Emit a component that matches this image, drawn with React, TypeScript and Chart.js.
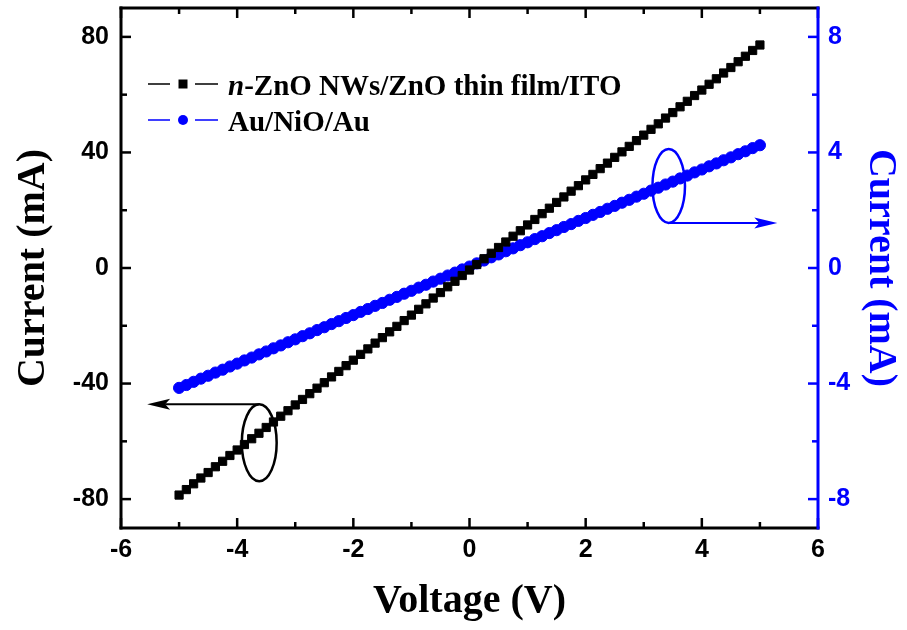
import React, { useEffect, useRef } from "react";
import { Chart, registerables } from "chart.js";

Chart.register(...registerables);

// ---------------- data ----------------
const voltage = [
  -5, -4.875, -4.75, -4.625, -4.5, -4.375, -4.25, -4.125, -4, -3.875,
  -3.75, -3.625, -3.5, -3.375, -3.25, -3.125, -3, -2.875, -2.75, -2.625,
  -2.5, -2.375, -2.25, -2.125, -2, -1.875, -1.75, -1.625, -1.5, -1.375,
  -1.25, -1.125, -1, -0.875, -0.75, -0.625, -0.5, -0.375, -0.25, -0.125,
  0, 0.125, 0.25, 0.375, 0.5, 0.625, 0.75, 0.875, 1, 1.125,
  1.25, 1.375, 1.5, 1.625, 1.75, 1.875, 2, 2.125, 2.25, 2.375,
  2.5, 2.625, 2.75, 2.875, 3, 3.125, 3.25, 3.375, 3.5, 3.625,
  3.75, 3.875, 4, 4.125, 4.25, 4.375, 4.5, 4.625, 4.75, 4.875, 5,
];

// n-ZnO NWs/ZnO thin film/ITO (left axis, mA)
const currentZnO = [
  -78.6, -76.7, -74.7, -72.7, -70.8, -68.8, -66.9, -64.9, -63.0, -61.1,
  -59.1, -57.2, -55.2, -53.3, -51.3, -49.4, -47.4, -45.5, -43.5, -41.6,
  -39.7, -37.7, -35.8, -33.8, -31.9, -29.9, -28.0, -26.0, -24.1, -22.1,
  -20.2, -18.2, -16.3, -14.3, -12.4, -10.4, -8.5, -6.5, -4.6, -2.6,
  -0.7, 1.2, 3.2, 5.1, 7.1, 9.0, 11.0, 12.9, 14.9, 16.8,
  18.8, 20.7, 22.7, 24.6, 26.6, 28.5, 30.5, 32.4, 34.4, 36.3,
  38.3, 40.2, 42.1, 44.1, 46.0, 48.0, 49.9, 51.9, 53.8, 55.8,
  57.7, 59.7, 61.6, 63.6, 65.5, 67.5, 69.4, 71.4, 73.3, 75.3, 77.2,
];

// Au/NiO/Au (right axis, mA)
const currentNiO = [
  -4.15, -4.05, -3.94, -3.83, -3.73, -3.62, -3.52, -3.41, -3.31, -3.20,
  -3.10, -2.99, -2.89, -2.78, -2.68, -2.57, -2.47, -2.36, -2.26, -2.15,
  -2.05, -1.94, -1.84, -1.73, -1.63, -1.52, -1.42, -1.31, -1.21, -1.10,
  -1.00, -0.89, -0.79, -0.68, -0.58, -0.47, -0.37, -0.26, -0.16, -0.05,
  0.05, 0.16, 0.26, 0.37, 0.47, 0.58, 0.68, 0.79, 0.89, 1.00,
  1.10, 1.21, 1.31, 1.42, 1.52, 1.63, 1.73, 1.84, 1.94, 2.05,
  2.15, 2.26, 2.36, 2.47, 2.57, 2.68, 2.78, 2.89, 2.99, 3.10,
  3.20, 3.31, 3.41, 3.52, 3.62, 3.73, 3.83, 3.94, 4.04, 4.15, 4.25,
];

const xTicks = [-6, -4, -2, 0, 2, 4, 6];
const xMinorTicks = [-5, -3, -1, 1, 3, 5];
const leftTicks = [-80, -40, 0, 40, 80];
const leftMinorTicks = [-60, -20, 20, 60];
const rightTicks = [-8, -4, 0, 4, 8];
const rightMinorTicks = [-6, -2, 2, 6];

const legendLabels = ["n", "-ZnO NWs/ZnO thin film/ITO", "Au/NiO/Au"];
const xTitle = "Voltage (V)";
const yTitle = "Current (mA)";

// annotation ellipses in data units: [centerV, centerI, radiusV, radiusI, arrowTipV]
const leftMarker = [-3.62, -60.5, 0.3, 13.3, -5.55];
const rightMarker = [3.43, 2.84, 0.28, 1.28, 5.3];

const BLUE = "#0000ff";
const BLACK = "#000000";

// ---------------- plugins ----------------
const framePlugin = {
  id: "frame",
  afterDatasetsDraw(chart: any) {
    const { ctx, chartArea: a, scales } = chart;
    const sx = scales.x, yl = scales.yL, yr = scales.yR;
    ctx.save();
    const seg = (x1: number, y1: number, x2: number, y2: number) => {
      ctx.beginPath();
      ctx.moveTo(x1, y1);
      ctx.lineTo(x2, y2);
      ctx.stroke();
    };
    ctx.lineWidth = 2.5;
    ctx.strokeStyle = BLACK;
    xTicks.forEach((v) => {
      const p = sx.getPixelForValue(v);
      seg(p, a.bottom, p, a.bottom - 10);
      seg(p, a.top, p, a.top + 10);
    });
    xMinorTicks.forEach((v) => {
      const p = sx.getPixelForValue(v);
      seg(p, a.bottom, p, a.bottom - 6);
      seg(p, a.top, p, a.top + 6);
    });
    leftTicks.forEach((v) => {
      const p = yl.getPixelForValue(v);
      seg(a.left, p, a.left + 10, p);
    });
    leftMinorTicks.forEach((v) => {
      const p = yl.getPixelForValue(v);
      seg(a.left, p, a.left + 6, p);
    });
    ctx.strokeStyle = BLUE;
    rightTicks.forEach((v) => {
      const p = yr.getPixelForValue(v);
      seg(a.right, p, a.right - 10, p);
    });
    rightMinorTicks.forEach((v) => {
      const p = yr.getPixelForValue(v);
      seg(a.right, p, a.right - 6, p);
    });
    // frame
    ctx.lineWidth = 3;
    ctx.lineCap = "square";
    ctx.strokeStyle = BLACK;
    seg(a.left, a.top, a.left, a.bottom);
    seg(a.left, a.bottom, a.right, a.bottom);
    seg(a.left, a.top, a.right, a.top);
    ctx.strokeStyle = BLUE;
    seg(a.right, a.top, a.right, a.bottom);
    ctx.restore();
  },
};

function drawMarker(ctx: any, sx: any, sy: any, m: number[], color: string, fromTop: boolean) {
  const cx = sx.getPixelForValue(m[0]);
  const cy = sy.getPixelForValue(m[1]);
  const rx = Math.abs(sx.getPixelForValue(m[0] + m[2]) - cx);
  const ry = Math.abs(sy.getPixelForValue(m[1] + m[3]) - cy);
  const tipX = sx.getPixelForValue(m[4]);
  ctx.save();
  ctx.strokeStyle = color;
  ctx.fillStyle = color;
  ctx.lineWidth = 2.5;
  ctx.beginPath();
  ctx.ellipse(cx, cy, rx, ry, 0, 0, Math.PI * 2);
  ctx.stroke();
  const ay = fromTop ? cy - ry : cy + ry;
  const dir = tipX < cx ? -1 : 1;
  ctx.lineWidth = 2;
  ctx.beginPath();
  ctx.moveTo(cx, ay);
  ctx.lineTo(tipX - dir * 18, ay);
  ctx.stroke();
  ctx.beginPath();
  ctx.moveTo(tipX, ay);
  ctx.lineTo(tipX - dir * 23, ay - 5.5);
  ctx.lineTo(tipX - dir * 18, ay);
  ctx.lineTo(tipX - dir * 23, ay + 5.5);
  ctx.closePath();
  ctx.fill();
  ctx.restore();
}

const annotationPlugin = {
  id: "annot",
  afterDatasetsDraw(chart: any) {
    const { ctx, scales } = chart;
    drawMarker(ctx, scales.x, scales.yL, leftMarker, BLACK, true);
    drawMarker(ctx, scales.x, scales.yR, rightMarker, BLUE, false);
  },
};

const legendPlugin = {
  id: "customLegend",
  afterDraw(chart: any) {
    const { ctx, chartArea: a } = chart;
    const x0 = a.left;
    const rows = [
      { y: a.top + 87, color: BLACK, shape: "rect" },
      { y: a.top + 123, color: BLUE, shape: "circle" },
    ];
    ctx.save();
    rows.forEach((r, i) => {
      const my = r.y - 11;
      ctx.strokeStyle = r.color;
      ctx.fillStyle = r.color;
      ctx.lineWidth = 1.5;
      ctx.beginPath();
      ctx.moveTo(x0 + 27, my);
      ctx.lineTo(x0 + 49, my);
      ctx.moveTo(x0 + 74, my);
      ctx.lineTo(x0 + 97, my);
      ctx.stroke();
      ctx.beginPath();
      if (r.shape === "rect") {
        ctx.rect(x0 + 62 - 4.5, my - 4.5, 9, 9);
      } else {
        ctx.arc(x0 + 62, my, 5, 0, Math.PI * 2);
      }
      ctx.fill();
      ctx.fillStyle = BLACK;
      ctx.textBaseline = "alphabetic";
      ctx.textAlign = "left";
      let tx = x0 + 107;
      if (i === 0) {
        ctx.font = "italic bold 29px 'Liberation Serif'";
        ctx.fillText(legendLabels[0], tx, r.y);
        tx += ctx.measureText(legendLabels[0]).width;
        ctx.font = "bold 29px 'Liberation Serif'";
        ctx.fillText(legendLabels[1], tx, r.y);
      } else {
        ctx.font = "bold 29px 'Liberation Serif'";
        ctx.fillText(legendLabels[2], tx, r.y);
      }
    });
    ctx.restore();
  },
};

// ---------------- component ----------------
export default function App() {
  const ref = useRef<HTMLCanvasElement | null>(null);

  useEffect(() => {
    if (!ref.current) return;
    const tickFont = { family: "'Liberation Sans'", weight: "bold" as const, size: 25 };
    const titleFont = { family: "'Liberation Serif'", weight: "bold" as const, size: 40, lineHeight: 1.2 };

    const chart = new Chart(ref.current, {
      type: "line",
      data: {
        datasets: [
          {
            label: legendLabels[0] + legendLabels[1],
            data: voltage.map((v, i) => ({ x: v, y: currentZnO[i] })),
            yAxisID: "yL",
            borderColor: BLACK,
            backgroundColor: BLACK,
            borderWidth: 1.5,
            pointStyle: "rect",
            pointRadius: 5.8,
            pointBorderWidth: 1,
            pointBorderColor: BLACK,
            pointBackgroundColor: BLACK,
            tension: 0,
          },
          {
            label: legendLabels[2],
            data: voltage.map((v, i) => ({ x: v, y: currentNiO[i] })),
            yAxisID: "yR",
            borderColor: BLUE,
            backgroundColor: BLUE,
            borderWidth: 1.5,
            pointStyle: "circle",
            pointRadius: 5.6,
            pointBorderWidth: 1,
            pointBorderColor: BLUE,
            pointBackgroundColor: BLUE,
            tension: 0,
          },
        ],
      },
      options: {
        responsive: false,
        animation: false,
        devicePixelRatio: 1,
        layout: { padding: { top: 8, left: 0, right: 0, bottom: 0 } },
        plugins: {
          legend: { display: false },
          tooltip: { enabled: false },
        },
        scales: {
          x: {
            type: "linear",
            position: "bottom",
            min: -6,
            max: 6,
            grid: { display: false, drawTicks: false },
            border: { display: false },
            ticks: { font: tickFont, color: BLACK, padding: 7 },
            afterBuildTicks: (s: any) => {
              s.ticks = xTicks.map((v) => ({ value: v }));
            },
            afterFit: (s: any) => {
              s.height = 102;
              s.paddingLeft = 0;
              s.paddingRight = 0;
            },
            title: { display: true, text: xTitle, font: titleFont, color: BLACK, padding: { top: 0, bottom: 4 } },
          },
          yL: {
            type: "linear",
            position: "left",
            min: -90,
            max: 90,
            grid: { display: false, drawTicks: false },
            border: { display: false },
            ticks: { font: tickFont, color: BLACK, padding: 12 },
            afterBuildTicks: (s: any) => {
              s.ticks = leftTicks.map((v) => ({ value: v }));
            },
            afterFit: (s: any) => {
              s.width = 121;
              s.paddingTop = 0;
              s.paddingBottom = 0;
            },
            title: { display: true, text: yTitle, font: titleFont, color: BLACK, padding: { top: 10, bottom: 0 } },
          },
          yR: {
            type: "linear",
            position: "right",
            min: -9,
            max: 9,
            grid: { display: false, drawTicks: false },
            border: { display: false },
            ticks: { font: tickFont, color: BLUE, padding: 10 },
            afterBuildTicks: (s: any) => {
              s.ticks = rightTicks.map((v) => ({ value: v }));
            },
            afterFit: (s: any) => {
              s.width = 89;
              s.paddingTop = 0;
              s.paddingBottom = 0;
            },
            title: { display: true, text: yTitle, font: titleFont, color: BLUE, padding: { top: 3, bottom: 0 } },
          },
        },
      },
      plugins: [framePlugin, annotationPlugin, legendPlugin],
    } as any);

    return () => chart.destroy();
  }, []);

  return (
    <canvas
      ref={ref}
      width={907}
      height={630}
      style={{ position: "absolute", left: 0, top: 0, width: 907, height: 630, background: "#fff" }}
    />
  );
}
